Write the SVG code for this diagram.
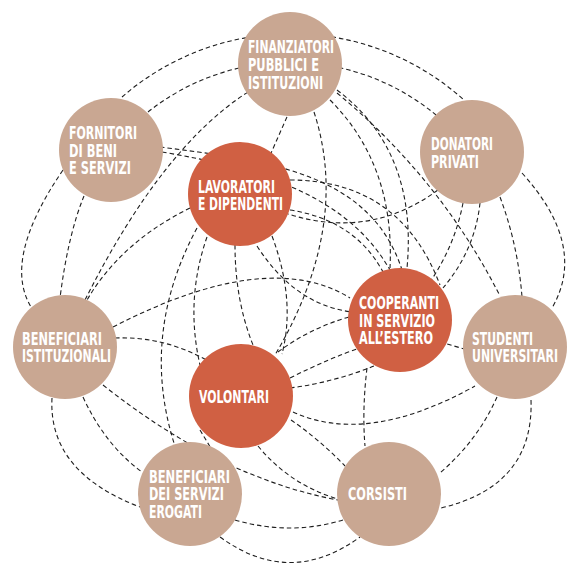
<svg xmlns="http://www.w3.org/2000/svg" width="584" height="564" viewBox="0 0 584 564">
<style>
.bg{fill:#ffffff}
.lk{fill:none;stroke:#1e1e1e;stroke-width:1.1;stroke-dasharray:4.5 3}
.out{fill:#c9a792}
.in{fill:#d06043}
.t{font-family:"DejaVu Sans","Liberation Sans",Arial,sans-serif;font-weight:bold;font-size:17px;fill:#ffffff}
</style>
<rect class="bg" x="0" y="0" width="584" height="564"/>
<g id="connectors">
<path class="lk" d="M122,97 A258,258 0 0 1 464,100"/>
<path class="lk" d="M148,112 A228,228 0 0 1 436,115"/>
<path class="lk" d="M85,300 Q162,147 248,92"/>
<path class="lk" d="M63,170 Q0,262 33,310"/>
<path class="lk" d="M84,196 Q68,235 60,298"/>
<path class="lk" d="M190,208 Q121,242 87,300"/>
<path class="lk" d="M160,147 C260,160 370,170 402,270"/>
<path class="lk" d="M162,152 C270,170 350,200 390,270"/>
<path class="lk" d="M290,110 L268,160"/>
<path class="lk" d="M314,112 Q351,226 275,355"/>
<path class="lk" d="M337,90 Q418,151 407,268"/>
<path class="lk" d="M330,100 Q395,165 390,268"/>
<path class="lk" d="M337,93 Q440,178 500,296"/>
<path class="lk" d="M438,190 Q370,240 288,214"/>
<path class="lk" d="M290,180 Q400,180 440,285"/>
<path class="lk" d="M290,210 Q355,220 383,272"/>
<path class="lk" d="M463,203 Q455,245 430,282"/>
<path class="lk" d="M480,203 Q475,250 443,288"/>
<path class="lk" d="M500,197 Q518,245 522,297"/>
<path class="lk" d="M522,173 Q588,246 552,308"/>
<path class="lk" d="M497,397 Q478,440 440,473"/>
<path class="lk" d="M531,400 Q534,486 441,508"/>
<path class="lk" d="M220,537 Q290,588 360,537"/>
<path class="lk" d="M235,520 Q290,536 343,520"/>
<path class="lk" d="M52,398 Q48,472 140,507"/>
<path class="lk" d="M83,397 Q105,445 142,472"/>
<path class="lk" d="M103,385 Q220,478 338,500"/>
<path class="lk" d="M258,446 Q290,485 338,499"/>
<path class="lk" d="M291,420 Q320,440 345,466"/>
<path class="lk" d="M200,430 L212,450"/>
<path class="lk" d="M115,338 Q165,336 210,362"/>
<path class="lk" d="M113,327 Q268,247 350,298"/>
<path class="lk" d="M197,228 Q140,334 174,443"/>
<path class="lk" d="M207,237 Q185,300 200,365"/>
<path class="lk" d="M235,245 Q235,300 253,345"/>
<path class="lk" d="M272,236 Q296,300 282,354"/>
<path class="lk" d="M257,246 Q295,305 352,312"/>
<path class="lk" d="M278,352 Q310,328 352,316"/>
<path class="lk" d="M290,378 Q330,358 360,348"/>
<path class="lk" d="M290,388 Q335,382 374,366"/>
<path class="lk" d="M293,412 Q367,446 475,386"/>
<path class="lk" d="M367,368 Q362,410 365,446"/>
<path class="lk" d="M440,342 L468,350"/>
</g>
<g id="finanziatori">
<circle class="out" cx="290" cy="64" r="52"/>
<text class="t"><tspan x="248" y="53" textLength="86" lengthAdjust="spacingAndGlyphs">FINANZIATORI</tspan><tspan x="248" y="71" textLength="71" lengthAdjust="spacingAndGlyphs">PUBBLICI E</tspan><tspan x="248" y="89" textLength="75" lengthAdjust="spacingAndGlyphs">ISTITUZIONI</tspan></text>
</g>
<g id="fornitori">
<circle class="out" cx="111" cy="150" r="52"/>
<text class="t"><tspan x="69" y="139" textLength="68" lengthAdjust="spacingAndGlyphs">FORNITORI</tspan><tspan x="69" y="157" textLength="48" lengthAdjust="spacingAndGlyphs">DI BENI</tspan><tspan x="69" y="174" textLength="62" lengthAdjust="spacingAndGlyphs">E SERVIZI</tspan></text>
</g>
<g id="lavoratori">
<circle class="in" cx="240" cy="194" r="52"/>
<text class="t"><tspan x="198" y="192.5" textLength="77" lengthAdjust="spacingAndGlyphs">LAVORATORI</tspan><tspan x="198" y="209.5" textLength="85" lengthAdjust="spacingAndGlyphs">E DIPENDENTI</tspan></text>
</g>
<g id="donatori">
<circle class="out" cx="472" cy="152" r="52"/>
<text class="t"><tspan x="431" y="150" textLength="62" lengthAdjust="spacingAndGlyphs">DONATORI</tspan><tspan x="431" y="168" textLength="48" lengthAdjust="spacingAndGlyphs">PRIVATI</tspan></text>
</g>
<g id="beneficiari-istituzionali">
<circle class="out" cx="65" cy="347" r="52"/>
<text class="t"><tspan x="22" y="345" textLength="80" lengthAdjust="spacingAndGlyphs">BENEFICIARI</tspan><tspan x="22" y="362" textLength="89" lengthAdjust="spacingAndGlyphs">ISTITUZIONALI</tspan></text>
</g>
<g id="cooperanti">
<circle class="in" cx="400" cy="320" r="52"/>
<text class="t"><tspan x="359" y="309" textLength="80" lengthAdjust="spacingAndGlyphs">COOPERANTI</tspan><tspan x="359" y="327" textLength="76" lengthAdjust="spacingAndGlyphs">IN SERVIZIO</tspan><tspan x="359" y="344" textLength="74" lengthAdjust="spacingAndGlyphs">ALL’ESTERO</tspan></text>
</g>
<g id="studenti">
<circle class="out" cx="515" cy="347" r="52"/>
<text class="t"><tspan x="472" y="345" textLength="61" lengthAdjust="spacingAndGlyphs">STUDENTI</tspan><tspan x="472" y="362" textLength="86" lengthAdjust="spacingAndGlyphs">UNIVERSITARI</tspan></text>
</g>
<g id="volontari">
<circle class="in" cx="241" cy="396" r="52"/>
<text class="t" x="199" y="403" textLength="70" lengthAdjust="spacingAndGlyphs">VOLONTARI</text>
</g>
<g id="beneficiari-servizi">
<circle class="out" cx="190" cy="494" r="52"/>
<text class="t"><tspan x="149" y="483" textLength="81" lengthAdjust="spacingAndGlyphs">BENEFICIARI</tspan><tspan x="149" y="500" textLength="75" lengthAdjust="spacingAndGlyphs">DEI SERVIZI</tspan><tspan x="149" y="518" textLength="53" lengthAdjust="spacingAndGlyphs">EROGATI</tspan></text>
</g>
<g id="corsisti">
<circle class="out" cx="389" cy="494" r="52"/>
<text class="t" x="348" y="500" textLength="59" lengthAdjust="spacingAndGlyphs">CORSISTI</text>
</g>
</svg>
